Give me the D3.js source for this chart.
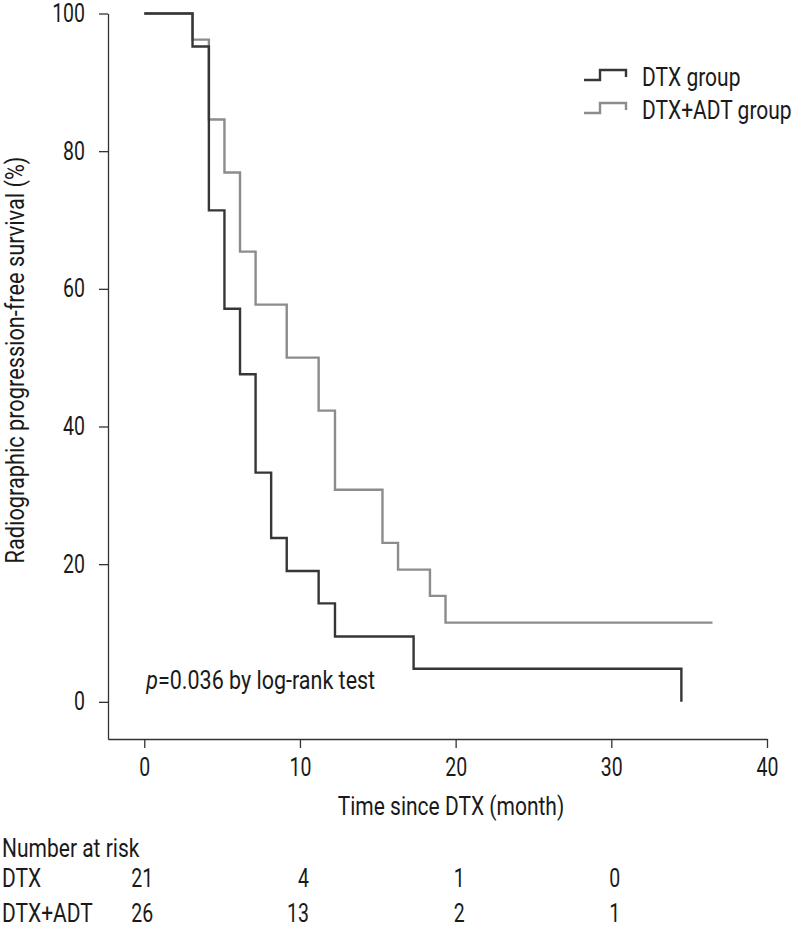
<!DOCTYPE html>
<html>
<head>
<meta charset="utf-8">
<script src="https://cdn.jsdelivr.net/npm/d3@7"></script>
<style>
  html, body { margin: 0; padding: 0; background: #fff; }
  svg text { font-family: Roboto, "Liberation Sans", sans-serif; fill: #1a1a1a; }
</style>
</head>
<body>
<svg id="chart" width="796" height="929"></svg>
<script>
// ---- data ----
const groups = ["DTX group", "DTX+ADT group"];
const dtxTimes = [0, 3.1, 4.15, 5.15, 6.15, 7.15, 8.15, 9.15, 11.2, 12.25, 17.3, 34.5];
const dtxSurv  = [100, 95.2, 71.4, 57.1, 47.6, 33.3, 23.8, 19.0, 14.3, 9.5, 4.8, 0];
const dtxEnd = 34.5;
const adtTimes = [0, 3.1, 4.15, 5.15, 6.15, 7.15, 9.15, 11.2, 12.25, 15.3, 16.3, 18.35, 19.35];
const adtSurv  = [100, 96.2, 84.6, 76.9, 65.4, 57.7, 50.0, 42.3, 30.8, 23.1, 19.2, 15.4, 11.5];
const adtEnd = 36.5;
const xTicks = [0, 10, 20, 30, 40];
const yTicks = [0, 20, 40, 60, 80, 100];
const riskTimes = [0, 10, 20, 30];
const riskLabels = ["DTX", "DTX+ADT"];
const riskDTX = [21, 4, 1, 0];
const riskADT = [26, 13, 2, 1];
const colors = ["#363636", "#8c8c8c"];

const FS = 25;       // font size
const SX = 0.84;     // horizontal condensing for words (reference uses a condensed face)
const SXN = 0.78;    // horizontal condensing for numerals

// ---- scales ----
const svg = d3.select("#chart");
const x = d3.scaleLinear().domain([-2.33, 40]).range([108, 767]);
const y = d3.scaleLinear().domain([-5.4, 100]).range([739, 13.5]);

// helper: condensed text
function label(parent, px, py, str, anchor, rotate, sx) {
  const g = parent.append("g")
    .attr("transform", `translate(${px},${py})` + (rotate ? ` rotate(${rotate})` : "") + ` scale(${sx || SX},1)`);
  const t = g.append("text").attr("text-anchor", anchor || "start").attr("font-size", FS);
  if (str !== null) t.text(str);
  return t;
}

// axes
const xAxis = svg.append("g").attr("transform", `translate(0,${y(-5.4)})`)
  .call(d3.axisBottom(x).tickValues(xTicks).tickSize(9).tickSizeOuter(0).tickPadding(10));
const yAxis = svg.append("g").attr("transform", `translate(${x(-2.33)},0)`)
  .call(d3.axisLeft(y).tickValues(yTicks).tickSize(9).tickSizeOuter(0).tickPadding(14));
[xAxis, yAxis].forEach(g => {
  g.selectAll("path, line").attr("stroke", "#333").attr("stroke-width", 1.3);
  g.attr("font-family", null).attr("font-size", null);
  g.selectAll("text").attr("font-size", FS).attr("fill", "#1a1a1a")
    .attr("transform", `scale(${SXN},1)`);
});
yAxis.selectAll("text").attr("x", -23 / SXN);

// axis titles
label(svg, x(19.7), 815, "Time since DTX (month)", "middle");
label(svg, 24, 360, "Radiographic progression-free survival (%)", "middle", -90, 0.87);

// curves
function stepPath(times, surv, end) {
  const pts = times.map((t, i) => [t, surv[i]]);
  const last = surv[surv.length - 1];
  if (end > times[times.length - 1]) pts.push([end, last]);
  return d3.line().x(d => x(d[0])).y(d => y(d[1])).curve(d3.curveStepAfter)(pts);
}
svg.append("path").attr("d", stepPath(adtTimes, adtSurv, adtEnd))
  .attr("fill", "none").attr("stroke", colors[1]).attr("stroke-width", 2.4);
svg.append("path").attr("d", stepPath(dtxTimes, dtxSurv, dtxEnd))
  .attr("fill", "none").attr("stroke", colors[0]).attr("stroke-width", 2.4);

// legend
const leg = svg.append("g");
groups.forEach((name, i) => {
  const ly = 80 + i * 33;
  const lx = 584;
  leg.append("path")
    .attr("d", `M${lx},${ly} H${lx + 16} V${ly - 10} H${lx + 42} V${ly - 3}`)
    .attr("fill", "none").attr("stroke", colors[i]).attr("stroke-width", 2.4);
  label(leg, 642, ly + 6, name, "start");
});

// p-value
const pt = label(svg, x(0) + 2, 689, null, "start", null, 0.86);
pt.append("tspan").attr("font-style", "italic").text("p");
pt.append("tspan").text("=0.036 by log-rank test");

// number at risk
label(svg, 2, 857, "Number at risk", "start");
[riskDTX, riskADT].forEach((row, r) => {
  const ry = 887 + r * 35;
  label(svg, 2, ry, riskLabels[r], "start");
  row.forEach((v, i) => {
    label(svg, x(riskTimes[i]) + 9, ry, String(v), "end", null, SXN);
  });
});
</script>
</body>
</html>
